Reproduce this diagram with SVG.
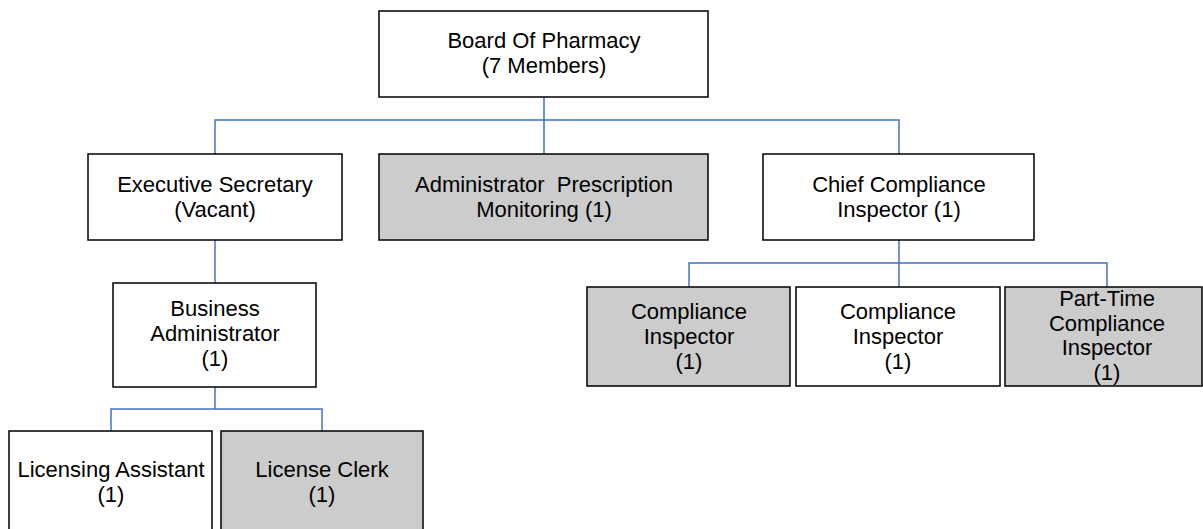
<svg xmlns="http://www.w3.org/2000/svg" width="1203" height="529" viewBox="0 0 1203 529">
<style>
.box{fill:#ffffff;stroke:#000000;stroke-width:1.5}
.gray{fill:#cccccc}
.conn{fill:none;stroke:#4472c4;stroke-width:1.5}
text{font-family:"Liberation Sans",Arial,sans-serif;font-size:22px;fill:#000000;text-anchor:middle}
</style>
<rect width="1203" height="529" fill="#ffffff"/>
<g id="connectors">
<path class="conn" d="M544,97 V154 M215,154 V120 H899 V154"/>
<path class="conn" d="M215,240 V283"/>
<path class="conn" d="M215,387 V409 M111,431 V409 H322 V431"/>
<path class="conn" d="M899,240 V287 M689,287 V263 H1107 V287"/>
</g>
<g id="board">
<rect class="box" x="379" y="11" width="329" height="86"/>
<text x="544" y="48">Board Of Pharmacy</text>
<text x="544" y="73">(7 Members)</text>
</g>
<g id="exec-secretary">
<rect class="box" x="88" y="154" width="254" height="86"/>
<text x="215" y="192">Executive Secretary</text>
<text x="215" y="217">(Vacant)</text>
</g>
<g id="admin-prescription">
<rect class="box gray" x="379" y="154" width="329" height="86"/>
<text x="544" y="192" xml:space="preserve">Administrator  Prescription</text>
<text x="544" y="217">Monitoring (1)</text>
</g>
<g id="chief-compliance">
<rect class="box" x="763" y="154" width="271" height="86"/>
<text x="899" y="192">Chief Compliance</text>
<text x="899" y="217">Inspector (1)</text>
</g>
<g id="business-admin">
<rect class="box" x="113" y="283" width="203" height="104"/>
<text x="215" y="316">Business</text>
<text x="215" y="341">Administrator</text>
<text x="215" y="366">(1)</text>
</g>
<g id="licensing-assistant">
<rect class="box" x="9" y="431" width="203" height="110"/>
<text x="111" y="477">Licensing Assistant</text>
<text x="111" y="502">(1)</text>
</g>
<g id="license-clerk">
<rect class="box gray" x="221" y="431" width="202" height="110"/>
<text x="322" y="477">License Clerk</text>
<text x="322" y="502">(1)</text>
</g>
<g id="compliance-inspector-1">
<rect class="box gray" x="587" y="287" width="203" height="99"/>
<text x="689" y="319">Compliance</text>
<text x="689" y="344">Inspector</text>
<text x="689" y="369">(1)</text>
</g>
<g id="compliance-inspector-2">
<rect class="box" x="796" y="287" width="204" height="99"/>
<text x="898" y="319">Compliance</text>
<text x="898" y="344">Inspector</text>
<text x="898" y="369">(1)</text>
</g>
<g id="part-time-inspector">
<rect class="box gray" x="1005" y="287" width="197" height="99"/>
<text x="1107" y="306">Part-Time</text>
<text x="1107" y="331">Compliance</text>
<text x="1107" y="355">Inspector</text>
<text x="1107" y="380">(1)</text>
</g>
</svg>
